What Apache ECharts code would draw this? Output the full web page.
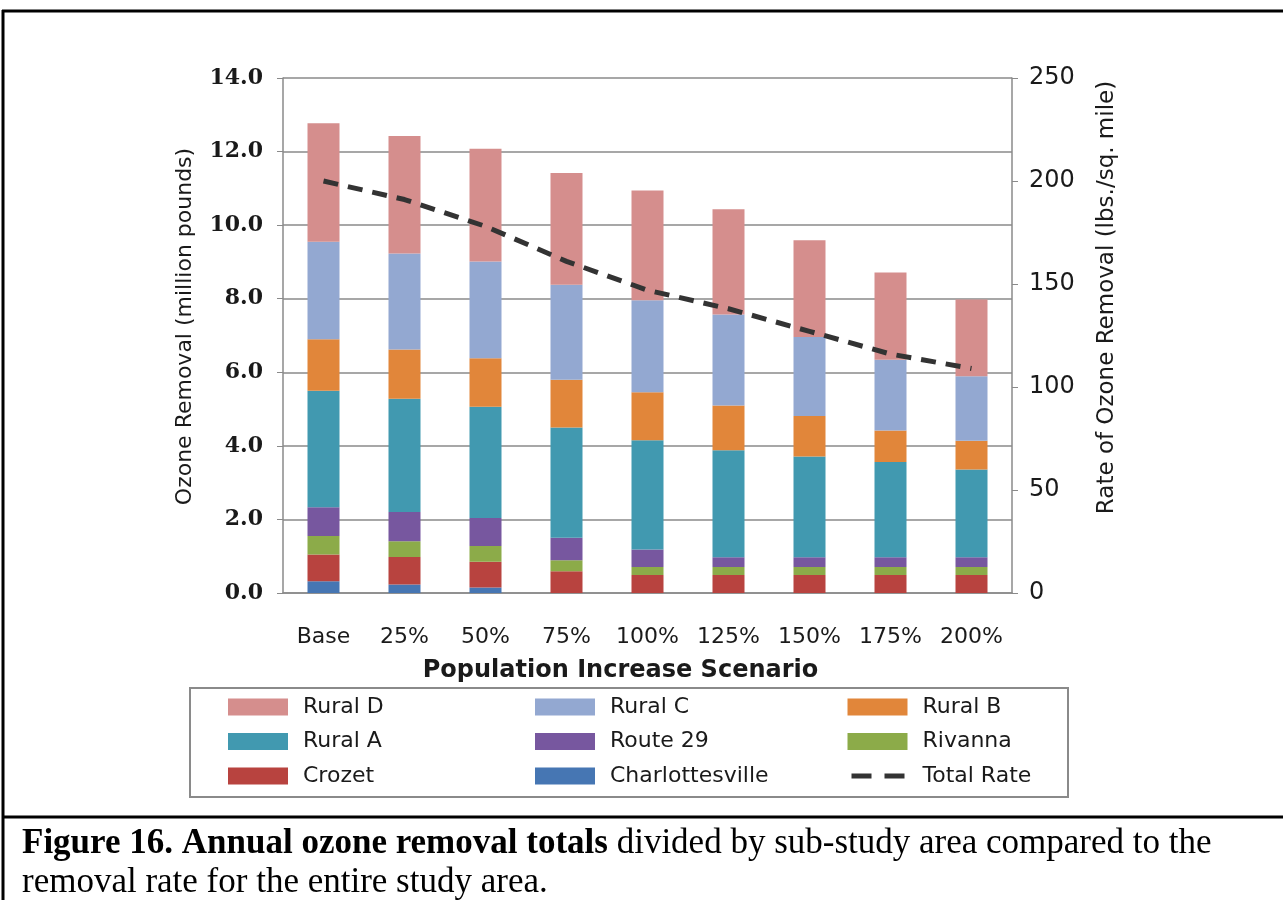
<!DOCTYPE html>
<html>
<head>
<meta charset="utf-8">
<script src="https://cdn.jsdelivr.net/npm/echarts@6/dist/echarts.min.js"></script>
<style>
  html, body { margin: 0; padding: 0; background: #fff; }
  #chart { width: 1283px; height: 900px; }
</style>
</head>
<body>
<div id="chart"></div>
<script>
// Population increase scenarios
const categories = ['Base', '25%', '50%', '75%', '100%', '125%', '150%', '175%', '200%'];

// Annual ozone removal by sub-study area (million pounds)
const charlottesville = [0.32, 0.23, 0.15, 0, 0, 0, 0, 0, 0];
const crozet          = [0.73, 0.75, 0.70, 0.59, 0.49, 0.49, 0.49, 0.49, 0.49];
const rivanna         = [0.50, 0.43, 0.43, 0.30, 0.22, 0.22, 0.22, 0.22, 0.22];
const route29         = [0.78, 0.79, 0.76, 0.61, 0.47, 0.26, 0.26, 0.26, 0.26];
const ruralA          = [3.17, 3.08, 3.02, 3.00, 2.97, 2.91, 2.74, 2.59, 2.39];
const ruralB          = [1.40, 1.34, 1.32, 1.30, 1.31, 1.22, 1.10, 0.86, 0.78];
const ruralC          = [2.65, 2.61, 2.63, 2.58, 2.50, 2.47, 2.15, 1.92, 1.75];
const ruralD          = [3.22, 3.19, 3.07, 3.04, 2.98, 2.86, 2.63, 2.37, 2.09];

// Removal rate for the whole study area (lbs./sq. mile)
const totalRate = [200, 191, 178, 161, 147, 138, 127, 116, 109];

const leftTicks = { min: 0, max: 14, interval: 2 };
const rightTicks = { min: 0, max: 250, interval: 50 };

const sans = 'DejaVu Sans';
const axisGray = '#8a8a8a';
const ink = '#1a1a1a';

function stackBar(name, data, color) {
  return {
    name: name, type: 'bar', stack: 'ozone', data: data,
    barWidth: 32, itemStyle: { color: color }, emphasis: { disabled: true }
  };
}

const legendCommon = {
  orient: 'vertical', itemWidth: 60, itemHeight: 17, itemGap: 12.5, padding: 0,
  selectedMode: false,
  textStyle: { fontFamily: sans, fontSize: 22, color: ink, padding: [0, 0, 0, 10] }
};

const option = {
  backgroundColor: '#ffffff',
  animation: false,
  grid: { left: 283, right: 271, top: 78, bottom: 307, containLabel: false },
  legend: [
    Object.assign({ left: 228, top: 696, data: [
      { name: 'Rural D', icon: 'rect' }, { name: 'Rural A', icon: 'rect' }, { name: 'Crozet', icon: 'rect' }] }, legendCommon),
    Object.assign({ left: 535, top: 696, data: [
      { name: 'Rural C', icon: 'rect' }, { name: 'Route 29', icon: 'rect' }, { name: 'Charlottesville', icon: 'rect' }] }, legendCommon),
    Object.assign({ left: 845, top: 696, data: [
      { name: 'Rural B', icon: 'rect' }, { name: 'Rivanna', icon: 'rect' },
      { name: 'Total Rate', itemStyle: { opacity: 0 },
        lineStyle: { color: '#333333', width: 5, type: [20, 13], dashOffset: -4, cap: 'butt' } }] }, legendCommon)
  ],
  xAxis: {
    type: 'category', data: categories,
    axisLine: { lineStyle: { color: axisGray, width: 1.5 } },
    axisTick: { show: false },
    axisLabel: { fontFamily: sans, fontSize: 22, color: ink, margin: 33, interval: 0 },
    name: 'Population Increase Scenario', nameLocation: 'middle', nameGap: 66,
    nameTextStyle: { fontFamily: sans, fontSize: 24, fontWeight: 'bold', color: ink, padding: [0, 54, 0, 0] }
  },
  yAxis: [
    {
      type: 'value', min: leftTicks.min, max: leftTicks.max, interval: leftTicks.interval,
      position: 'left',
      axisLine: { show: true, lineStyle: { color: axisGray, width: 1.5 } },
      axisTick: { show: true, length: 6, lineStyle: { color: axisGray } },
      splitLine: { show: true, lineStyle: { color: axisGray, width: 1.5 } },
      axisLabel: { fontFamily: 'DejaVu Serif', fontSize: 22, fontWeight: 'bold', color: ink, margin: 20,
                   formatter: function (v) { return v.toFixed(1); } },
      name: 'Ozone Removal (million pounds)', nameLocation: 'middle', nameGap: 87, nameRotate: 90,
      nameTextStyle: { fontFamily: sans, fontSize: 22, color: ink, padding: [0, 0, 0, 18] }
    },
    {
      type: 'value', min: rightTicks.min, max: rightTicks.max, interval: rightTicks.interval,
      position: 'right',
      axisLine: { show: true, lineStyle: { color: axisGray, width: 1.5 } },
      axisTick: { show: true, length: 6, lineStyle: { color: axisGray } },
      splitLine: { show: false },
      axisLabel: { fontFamily: sans, fontSize: 24, color: ink, margin: 17 },
      name: 'Rate of Ozone Removal (lbs./sq. mile)', nameLocation: 'middle', nameGap: 84, nameRotate: 90,
      nameTextStyle: { fontFamily: sans, fontSize: 23, color: ink, padding: [0, 0, 0, 76] }
    }
  ],
  series: [
    stackBar('Charlottesville', charlottesville, '#4676b3'),
    stackBar('Crozet', crozet, '#b8433f'),
    stackBar('Rivanna', rivanna, '#8cab49'),
    stackBar('Route 29', route29, '#77579f'),
    stackBar('Rural A', ruralA, '#4199b0'),
    stackBar('Rural B', ruralB, '#e1863a'),
    stackBar('Rural C', ruralC, '#93a8d1'),
    stackBar('Rural D', ruralD, '#d58e8d'),
    {
      name: 'Total Rate', type: 'line', yAxisIndex: 1, data: totalRate,
      symbol: 'none', z: 5,
      lineStyle: { color: '#333333', width: 5, type: [15, 10], cap: 'butt' },
      itemStyle: { color: '#333333' },
      emphasis: { disabled: true }
    }
  ],
  graphic: [
    // figure frame
    { type: 'line', shape: { x1: 2, y1: 11, x2: 1283, y2: 11 }, style: { stroke: '#000', lineWidth: 3 } },
    { type: 'line', shape: { x1: 3, y1: 10, x2: 3, y2: 900 }, style: { stroke: '#000', lineWidth: 3 } },
    { type: 'line', shape: { x1: 2, y1: 817, x2: 1283, y2: 817 }, style: { stroke: '#000', lineWidth: 3 } },
    // legend frame
    { type: 'rect', shape: { x: 190, y: 688, width: 878, height: 109 }, z: -1,
      style: { fill: '#fff', stroke: '#8a8a8a', lineWidth: 2 } },
    // caption
    {
      type: 'text', left: 22, top: 824,
      style: {
        text: '{b|Figure 16. Annual ozone removal totals} divided by sub-study area compared to the\nremoval rate for the entire study area.',
        font: '35px "Liberation Serif"', fill: '#000', lineHeight: 39,
        rich: { b: { fontWeight: 'bold', fontFamily: 'Liberation Serif', fontSize: 35, lineHeight: 39 } }
      }
    }
  ]
};

const chart = echarts.init(document.getElementById('chart'), null, { renderer: 'canvas' });
chart.setOption(option);
</script>
</body>
</html>
